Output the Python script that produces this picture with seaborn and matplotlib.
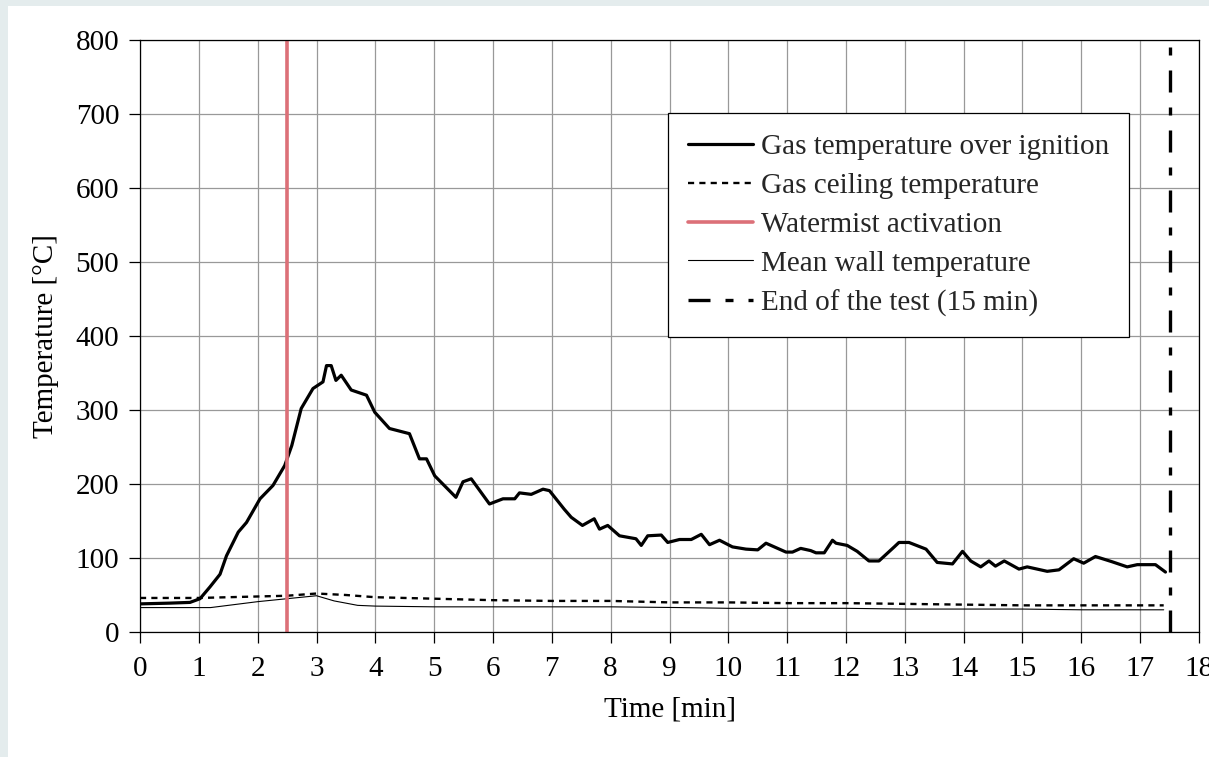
import numpy as np
import pandas as pd
import matplotlib
matplotlib.use("Agg")
import matplotlib.pyplot as plt
from matplotlib.patches import Rectangle
import seaborn as sns

# gas temperature over ignition
gas_t = [0, 0.5, 0.85, 1.02, 1.19, 1.36, 1.47, 1.67, 1.81, 2.04, 2.26, 2.46, 2.58, 2.74,
         2.94, 3.11, 3.17, 3.25, 3.33, 3.42, 3.59, 3.85, 3.99, 4.24, 4.58, 4.75, 4.87,
         5.01, 5.37, 5.49, 5.63, 5.94, 6.17, 6.37, 6.45, 6.65, 6.85, 6.96, 7.21, 7.33,
         7.52, 7.72, 7.81, 7.95, 8.15, 8.43, 8.52, 8.63, 8.86, 8.97, 9.17, 9.37, 9.54,
         9.68, 9.85, 10.07, 10.3, 10.5, 10.64, 10.98, 11.09, 11.23, 11.4, 11.49, 11.63,
         11.77, 11.83, 12.02, 12.19, 12.39, 12.56, 12.82, 12.9, 13.07, 13.36, 13.55,
         13.81, 13.98, 14.12, 14.29, 14.43, 14.54, 14.69, 14.94, 15.08, 15.42, 15.62,
         15.87, 16.04, 16.24, 16.52, 16.78, 16.95, 17.26, 17.43]
gas_T = [38, 39, 40, 45, 61, 78, 103, 135, 148, 180, 198, 225, 252, 302,
         329, 338, 360, 360, 340, 347, 327, 320, 297, 275, 268, 234, 234,
         211, 182, 203, 207, 173, 180, 180, 188, 186, 193, 191, 166, 155,
         144, 153, 139, 144, 130, 126, 117, 130, 131, 121, 125, 125, 132,
         118, 124, 115, 112, 111, 120, 108, 108, 113, 110, 107, 107,
         124, 120, 117, 109, 96, 96, 115, 121, 121, 112, 94,
         92, 109, 96, 88, 96, 89, 96, 85, 88, 82, 84,
         99, 93, 102, 95, 88, 91, 91, 81]

ceil_t = [0, 1, 2, 2.5, 3, 3.5, 4, 5, 6, 7, 8, 9, 10, 11, 12, 13, 14, 15, 16, 17, 17.4]
ceil_T = [46, 46, 48, 49, 52, 50, 47, 45, 43, 42, 42, 40, 40, 39, 39, 38, 37, 36, 36, 36, 36]

wall_t = [0, 1.2, 2, 2.5, 3, 3.3, 3.7, 4, 5, 6, 7, 8, 9.2, 10, 12, 13, 14, 15, 16, 17, 17.4]
wall_T = [33, 33, 41, 45, 49, 42, 36, 35, 34, 34, 34, 34, 33, 32, 32, 31, 31, 31, 30, 30, 30]

watermist_time = 2.5
end_time = 17.5

labels = ["Gas temperature over ignition", "Gas ceiling temperature",
          "Watermist activation", "Mean wall temperature", "End of the test (15 min)"]

sns.set_theme(style="ticks")
plt.rcParams["font.family"] = ["Liberation Serif", "DejaVu Serif"]

fig = plt.figure(figsize=(12.09, 7.57), dpi=100, facecolor="#e4eced")
fig.patches.append(Rectangle((8 / 1209, 0), 1, 1 - 6 / 757, transform=fig.transFigure,
                             facecolor="white", edgecolor="none", zorder=-10))
ax = fig.add_axes([140 / 1209, 1 - 632 / 757, (1199 - 140) / 1209, (632 - 40) / 757])
ax.set_facecolor("white")

df_gas = pd.DataFrame({"t": gas_t, "T": gas_T})
df_ceil = pd.DataFrame({"t": ceil_t, "T": ceil_T})
df_wall = pd.DataFrame({"t": wall_t, "T": wall_T})

sns.lineplot(data=df_gas, x="t", y="T", ax=ax, color="black", lw=2.3, label=labels[0], zorder=5)
sns.lineplot(data=df_ceil, x="t", y="T", ax=ax, color="black", lw=1.7,
             dashes=False, label=labels[1], zorder=4)
ax.lines[-1].set_dashes([2.6, 2.2])
ax.axvline(watermist_time, color="#dc7078", lw=2.6, label=labels[2], zorder=6)
sns.lineplot(data=df_wall, x="t", y="T", ax=ax, color="black", lw=0.8, label=labels[3], zorder=4)
ax.axvline(end_time, color="black", lw=2.4, label=labels[4], zorder=6)
ax.lines[-1].set_dashes([6.6, 4.5, 2.4, 4.5])

ax.set_xlim(0, 18)
ax.set_ylim(0, 800)
ax.set_xticks(np.arange(0, 19, 1))
ax.set_yticks(np.arange(0, 801, 100))
ax.grid(True, color="#999999", lw=0.9)
ax.set_axisbelow(True)
for s in ax.spines.values():
    s.set_color("black")
    s.set_linewidth(0.9)
    s.set_zorder(7)
ax.tick_params(axis="both", direction="out", length=8, width=0.9, color="black",
               labelsize=21, labelcolor="black")
ax.tick_params(axis="x", pad=9)
ax.tick_params(axis="y", pad=7)
ax.set_xlabel("Time [min]", fontsize=21, labelpad=11, color="black")
ax.set_ylabel("Temperature [°C]", fontsize=21, labelpad=12, color="black")

h, l = ax.get_legend_handles_labels()
leg = ax.legend(h, l, loc="upper left", bbox_to_anchor=(0.4986, 0.8767), borderaxespad=0,
                frameon=True, fancybox=False, shadow=False, fontsize=21,
                handlelength=2.2, handletextpad=0.28, labelspacing=0.43,
                borderpad=0.7)
leg.get_frame().set_edgecolor("black")
leg.get_frame().set_linewidth(0.9)
leg.get_frame().set_alpha(1)
leg.set_zorder(10)

fig.savefig("out.png", dpi=100, facecolor=fig.get_facecolor())
